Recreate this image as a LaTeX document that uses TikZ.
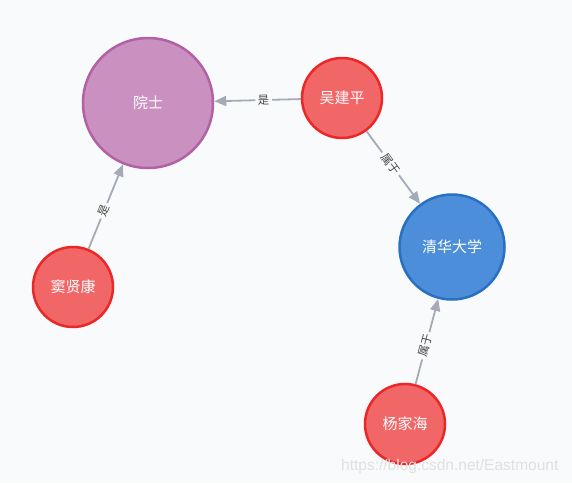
\documentclass[tikz,border=0pt]{standalone}
\usepackage{fontspec}
\setmainfont{Liberation Sans}
\newfontfamily\cjk{Noto Sans CJK SC}
\usetikzlibrary{arrows.meta}
\definecolor{bgc}{HTML}{F9FAFC}
\definecolor{purfill}{HTML}{C990C0}
\definecolor{purline}{HTML}{B261A5}
\definecolor{redfill}{HTML}{F16667}
\definecolor{redline}{HTML}{EB2728}
\definecolor{bluefill}{HTML}{4C8EDA}
\definecolor{blueline}{HTML}{2870C2}
\definecolor{edgec}{HTML}{A5ABB6}
\definecolor{labc}{HTML}{4A4A4A}
\begin{document}
\begin{tikzpicture}[x=1pt,y=-1pt,
  ent/.style={circle,inner sep=0pt,line width=2.5pt,text=white,font=\cjk\fontsize{15}{15}\selectfont},
  person/.style={ent,fill=redfill,draw=redline,minimum size=80pt},
  title/.style={ent,fill=purfill,draw=purline,minimum size=130pt},
  org/.style={ent,fill=bluefill,draw=blueline,minimum size=105pt},
  rel/.style={draw=edgec,line width=1.8pt,-{Triangle[length=12pt,width=10pt]}},
  rlab/.style={sloped,fill=bgc,inner sep=2.5pt,text=labc,font=\cjk\fontsize{11.5}{11.5}\selectfont}]
\fill[bgc] (0,0) rectangle (572,483);
\useasboundingbox (0,0) rectangle (572,483);
\node[title] (ys) at (148,103) {院士};
\node[person] (wjp) at (342,98) {吴建平};
\node[org] (qh) at (452,247) {清华大学};
\node[person] (dxk) at (73,287) {窦贤康};
\node[person] (yjh) at (405,424) {杨家海};
\draw[rel] (wjp) -- node[rlab,pos=0.43] {是} (ys);
\draw[rel] (wjp) -- node[rlab,pos=0.45] {属于} (qh);
\draw[rel] (dxk) -- node[rlab,pos=0.45] {是} (ys);
\draw[rel] (yjh) -- node[rlab,pos=0.45] {属于} (qh);
\node[anchor=base west,inner sep=0pt,text=black!12,font=\fontsize{15.5}{15.5}\selectfont] (wm) at (341,470) {https://blog.csdn.net/Eastmount};
\end{tikzpicture}
\end{document}
